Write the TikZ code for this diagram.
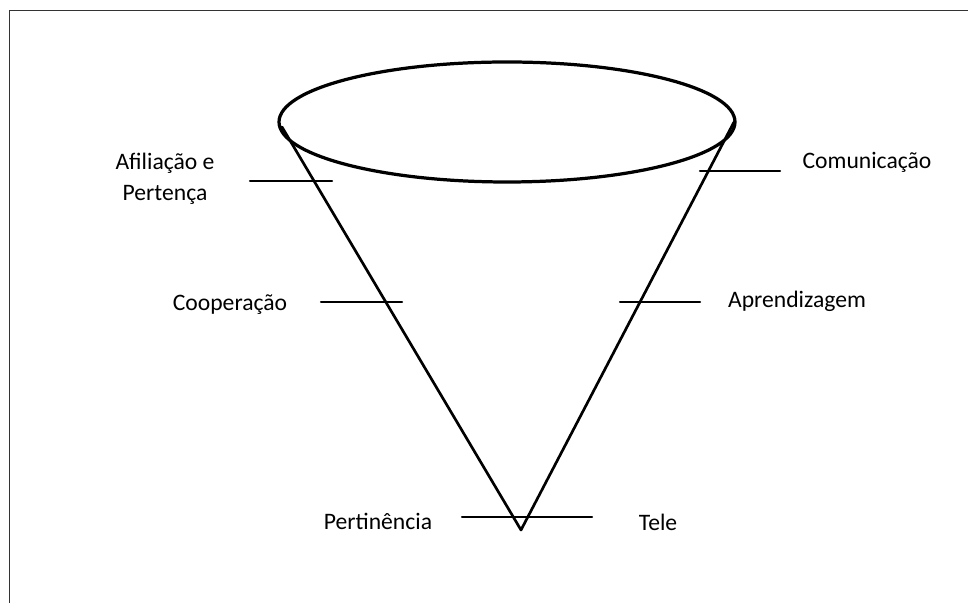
\documentclass[tikz,border=0pt]{standalone}
\usepackage{fontspec}
\setmainfont{Carlito}
\usepackage{tikz}
\usetikzlibrary{arrows}

\tikzset{
	etiqueta/.style={font=\fontsize{16.8}{22}\selectfont, inner sep=0pt, align=center},
	marca/.style={line width=1.5pt}
}

\begin{document}
\begin{tikzpicture}[line cap=round,line join=round,x=1cm,y=1cm]
			\useasboundingbox (0,0) rectangle (24.2,15.075);
			%%%% MARCO
			\draw [color=black!80,line width=0.7pt,line cap=butt] (0.24,0) -- (0.24,14.8) -- (24.2,14.8);
			
			%%%% CONO
			\coordinate (vertice) at (13.025,1.825);
			\coordinate (bordeizq) at (7.05,11.9);
			\coordinate (bordeder) at (18.35,12.025);
			\draw [line width=1.9pt] (bordeizq) -- (vertice) -- (bordeder);
			\draw [line width=2.3pt] (12.675,12.025) ellipse (5.7cm and 1.5cm);
			
			%%%% ETIQUETAS
			\node[etiqueta] (afiliacao) at (4.125,10.6) {Afiliação e\\Pertença};
			\node[etiqueta] (comunicacao) at (21.675,11.025) {Comunicação};
			\node[etiqueta] (cooperacao) at (5.75,7.45) {Cooperação};
			\node[etiqueta] (aprendizagem) at (19.925,7.55) {Aprendizagem};
			\node[etiqueta] (pertinencia) at (9.45,2.05) {Pertinência};
			\node[etiqueta] (tele) at (16.45,2.025) {Tele};
			
			%%%% MARCAS
			\coordinate (a1) at (6.25,10.55);  \coordinate (a2) at (8.3,10.55);
			\coordinate (c1) at (17.5,10.8);   \coordinate (c2) at (19.5,10.8);
			\coordinate (k1) at (8.025,7.525); \coordinate (k2) at (10.05,7.525);
			\coordinate (p1) at (15.5,7.525);  \coordinate (p2) at (17.5,7.525);
			\coordinate (t1) at (11.55,2.15);  \coordinate (t2) at (14.8,2.15);
			\draw [marca] (a1) -- (a2);
			\draw [marca] (c1) -- (c2);
			\draw [marca] (k1) -- (k2);
			\draw [marca] (p1) -- (p2);
			\draw [marca] (t1) -- (t2);
		\end{tikzpicture}
\end{document}
